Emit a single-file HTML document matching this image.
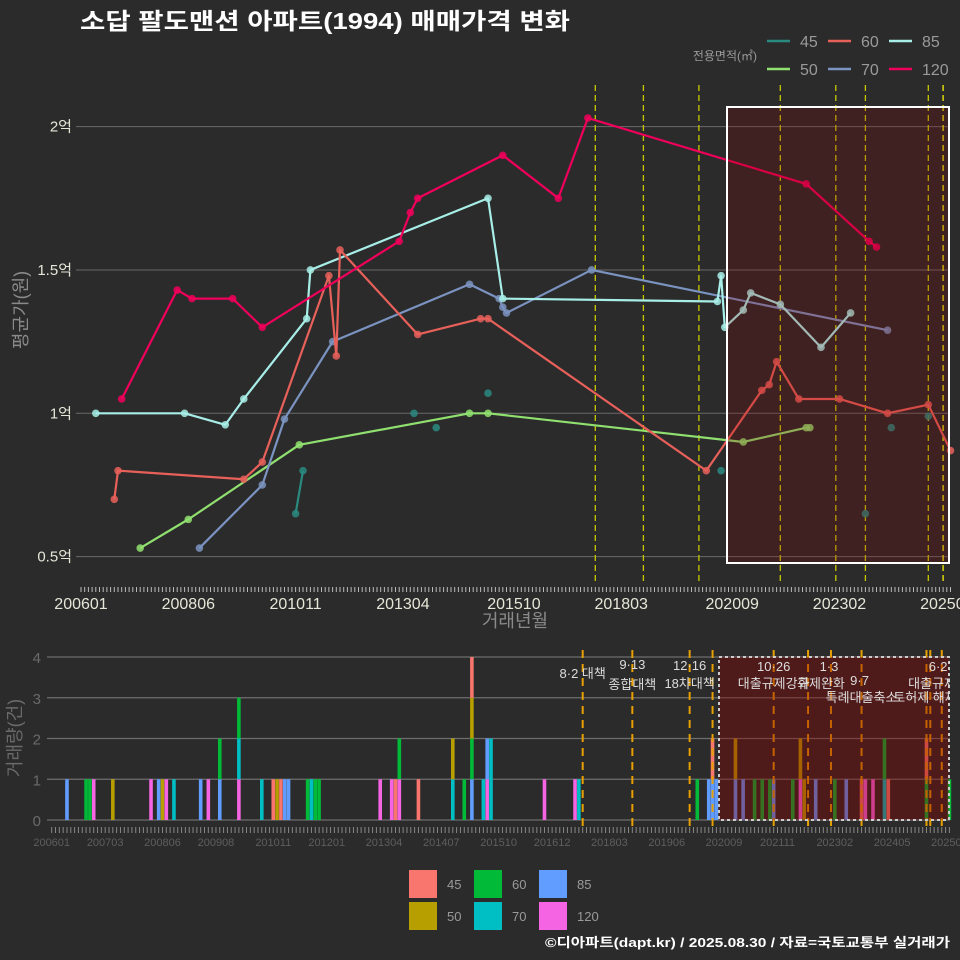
<!DOCTYPE html>
<html><head><meta charset="utf-8"><style>
html,body{margin:0;padding:0;background:#2b2b2b;}
svg{display:block;font-family:"Liberation Sans","Noto Sans CJK KR",sans-serif;}
</style></head><body>
<svg id="chart" width="960" height="960" viewBox="0 0 960 960">
<rect x="0" y="0" width="960" height="960" fill="#2b2b2b"/>
<text x="80" y="29" fill="#ffffff" font-size="23" font-weight="bold" textLength="490" lengthAdjust="spacingAndGlyphs">소답 팔도맨션 아파트(1994) 매매가격 변화</text>
<text x="545" y="947" fill="#ffffff" font-size="13" font-weight="bold" textLength="405" lengthAdjust="spacingAndGlyphs">©디아파트(dapt.kr) / 2025.08.30 / 자료=국토교통부 실거래가</text>
<g id="topChart"></g>
<g id="bottomChart"></g>
<g id="legends"></g>
</svg>
<script>
// ---- price series (month index from 2006-01, value in 억) ----
const s45Months = [58, 60, 90, 96, 110, 173, 212, 219, 229];
const s45Values = [0.65, 0.80, 1.0, 0.95, 1.07, 0.80, 0.65, 0.95, 0.99];
const s45Connected = [1, 1, 0, 0, 0, 0, 0, 0, 0];
const s50Months = [16, 29, 59, 105, 110, 179, 196, 197];
const s50Values = [0.53, 0.63, 0.89, 1.0, 1.0, 0.90, 0.95, 0.95];
const s60Months = [9, 10, 44, 49, 67, 69, 70, 91, 108, 110, 169, 184, 186, 188, 194, 205, 218, 229, 235];
const s60Values = [0.70, 0.80, 0.77, 0.83, 1.48, 1.20, 1.57, 1.275, 1.33, 1.33, 0.80, 1.08, 1.10, 1.18, 1.05, 1.05, 1.0, 1.03, 0.87];
const s70Months = [32, 49, 55, 68, 105, 113, 114, 115, 138, 218];
const s70Values = [0.53, 0.75, 0.98, 1.25, 1.45, 1.40, 1.37, 1.35, 1.50, 1.29];
const s85Months = [4, 28, 39, 44, 61, 62, 110, 114, 172, 173, 174, 179, 181, 189, 200, 208];
const s85Values = [1.0, 1.0, 0.96, 1.05, 1.33, 1.50, 1.75, 1.40, 1.39, 1.48, 1.30, 1.36, 1.42, 1.38, 1.23, 1.35];
const s120Months = [11, 26, 30, 41, 49, 86, 89, 91, 114, 129, 137, 196, 213, 215];
const s120Values = [1.05, 1.43, 1.40, 1.40, 1.30, 1.60, 1.70, 1.75, 1.90, 1.75, 2.03, 1.80, 1.60, 1.58];
// ---- volume (bars) ----
const v45Months = [58, 60, 90, 96, 110, 173, 212, 219, 229];
const v45Counts = [1, 1, 1, 1, 1, 1, 1, 1, 1];
const v50Months = [16, 29, 59, 105, 110, 179, 196, 197];
const v50Counts = [1, 1, 1, 1, 1, 1, 1, 1];
const v60Months = [9, 10, 44, 49, 67, 69, 70, 91, 108, 110, 169, 184, 186, 188, 194, 205, 218, 229, 235];
const v60Counts = [1, 1, 1, 1, 1, 1, 1, 1, 1, 1, 1, 1, 1, 1, 1, 1, 1, 1, 1];
const v70Months = [32, 49, 55, 68, 105, 113, 115, 138, 218];
const v70Counts = [1, 1, 1, 1, 1, 1, 2, 1, 1];
const v85Months = [4, 28, 39, 44, 61, 62, 110, 114, 172, 173, 174, 179, 181, 189, 200, 208];
const v85Counts = [1, 1, 1, 1, 1, 1, 1, 1, 1, 1, 1, 1, 1, 1, 1, 1];
const v120Months = [11, 26, 30, 41, 49, 86, 89, 91, 114, 129, 137, 196, 213, 215];
const v120Counts = [1, 1, 1, 1, 1, 1, 1, 1, 1, 1, 1, 1, 1, 1];
// ---- ticks / annotations ----
const topYTicks = [0.5, 1, 1.5, 2];
const topYLabels = ["0.5억", "1억", "1.5억", "2억"];
const topXTickMonths = [0, 29, 58, 87, 117, 146, 176, 205, 234];
const topXLabels = ["200601", "200806", "201011", "201304", "201510", "201803", "202009", "202302", "202507"];
const botYTicks = [0, 1, 2, 3, 4];
const botXTickMonths = [0, 14, 29, 43, 58, 72, 87, 102, 117, 131, 146, 161, 176, 190, 205, 220, 235];
const botXLabels = ["200601","200703","200806","200908","201011","201201","201304","201407","201510","201612","201803","201906","202009","202111","202302","202405","202508"];
const topPolicyMonths = [139, 152, 167, 189, 204, 212, 229, 233];
const botPolicyMonths = [139, 152, 167, 173, 189, 198, 204, 212, 229, 230, 233];
const policyLabel1 = ["8·2 대책", "9·13", "12·16", "10·26", "1·3", "9·7", "6·27"];
const policyLabel2 = ["", "종합대책", "18차대책", "대출규제강화", "규제완화", "특례대출축소", "대출규제 강화"];
const policyLabelMonths = [139, 152, 167, 189, 204, 212, 233];

const NS = "http://www.w3.org/2000/svg";
function mk(parent, tag, attrs) {
  const e = document.createElementNS(NS, tag);
  for (const k in attrs) e.setAttribute(k, attrs[k]);
  parent.appendChild(e);
  return e;
}
const xTop = m => 81 + 3.7 * m;
const yTop = v => 413.3 - (v - 1) * 286.7;
const xBot = m => 51.7 + 3.82 * m;
const yBot = c => 820 - 40.75 * c;

const topG = document.getElementById("topChart");
const botG = document.getElementById("bottomChart");
const legG = document.getElementById("legends");

// ===== TOP CHART =====
topYTicks.forEach((t, i) => {
  const g = mk(topG, "line", {x1: 76, x2: 950, y1: yTop(t), y2: yTop(t), stroke: "#6a6a6a", "stroke-width": 1});
  
  
  const l = mk(topG, "text", {x: 72, y: yTop(t) + 5, fill: "#e6e6d8", "font-size": 15, "text-anchor": "end"});
  l.textContent = topYLabels[i];
  
  
});
for (let m = 0; m <= 235; m++) {
  const t = mk(topG, "line", {x1: xTop(m), x2: xTop(m), y1: 587, y2: 592, stroke: "#bbbbbb", "stroke-width": 1});
  
  
}
topXTickMonths.forEach((m, i) => {
  const l = mk(topG, "text", {x: xTop(m), y: 609, fill: "#e6e6d8", "font-size": 16, "text-anchor": "middle"});
  l.textContent = topXLabels[i];
  
  
});
let t1 = mk(topG, "text", {x: 515, y: 627, fill: "#8a8a8a", "font-size": 18, "text-anchor": "middle"});
t1.textContent = "거래년월";


let t2 = mk(topG, "text", {x: 0, y: 0, fill: "#8a8a8a", "font-size": 18, "text-anchor": "middle", transform: "translate(27,310) rotate(-90)"});
t2.textContent = "평균가(원)";



topPolicyMonths.forEach((m, i) => {
  const d = mk(topG, "line", {x1: xTop(m), x2: xTop(m), y1: 85, y2: 585, stroke: i === topPolicyMonths.length - 1 ? "#f0f000" : "#c8c800", "stroke-width": 1.3, "stroke-dasharray": "6 4"});
  
  
});

const topSeries = [
  {name: "45", months: s45Months, values: s45Values, color: "#2a8a80", conn: s45Connected},
  {name: "50", months: s50Months, values: s50Values, color: "#90e070"},
  {name: "70", months: s70Months, values: s70Values, color: "#7b93c0"},
  {name: "85", months: s85Months, values: s85Values, color: "#a8eee8"},
  {name: "60", months: s60Months, values: s60Values, color: "#e8605a"},
  {name: "120", months: s120Months, values: s120Values, color: "#f0005a"}
];
topSeries.forEach(s => {
  let pts = [];
  if (s.conn) {
    s.months.forEach((m, i) => { if (s.conn[i]) pts.push(xTop(m) + "," + yTop(s.values[i])); });
  } else {
    pts = s.months.map((m, i) => xTop(m) + "," + yTop(s.values[i]));
  }
  if (pts.length > 1) {
    const p = mk(topG, "polyline", {points: pts.join(" "), fill: "none", stroke: s.color, "stroke-width": 2.2, "stroke-linejoin": "round"});
    
    
  }
  s.months.forEach((m, i) => {
    const c = mk(topG, "circle", {cx: xTop(m), cy: yTop(s.values[i]), r: 3.8, fill: s.color, "fill-opacity": 0.85});
    
    
  });
});
let hl = mk(topG, "rect", {x: 727, y: 107, width: 222, height: 456, fill: "rgba(139,0,0,0.22)", stroke: "#ffffff", "stroke-width": 2});



// ===== BOTTOM CHART =====
botYTicks.forEach(t => {
  const g = mk(botG, "line", {x1: 47, x2: 950, y1: yBot(t), y2: yBot(t), stroke: "#6e6e6e", "stroke-width": 1.2});
  
  
  const l = mk(botG, "text", {x: 41, y: yBot(t) + 6, fill: "#6a6a6a", "font-size": 15, "text-anchor": "end"});
  l.textContent = String(t);
  
  
});
for (let m = 0; m <= 235; m++) {
  const t = mk(botG, "line", {x1: xBot(m), x2: xBot(m), y1: 827, y2: 833, stroke: "#888888", "stroke-width": 1});
  
  
}
botXTickMonths.forEach((m, i) => {
  const l = mk(botG, "text", {x: xBot(m), y: 846, fill: "#5e5e5e", "font-size": 11, "text-anchor": "middle"});
  l.textContent = botXLabels[i];
  
  
});
let t3 = mk(botG, "text", {x: 0, y: 0, fill: "#6a6a6a", "font-size": 18, "text-anchor": "middle", transform: "translate(21,738) rotate(-90)"});
t3.textContent = "거래량(건)";



const barSeries = [
  {name: "120", months: v120Months, counts: v120Counts, color: "#f564e3"},
  {name: "85", months: v85Months, counts: v85Counts, color: "#619cff"},
  {name: "70", months: v70Months, counts: v70Counts, color: "#00bfc4"},
  {name: "60", months: v60Months, counts: v60Counts, color: "#00ba38"},
  {name: "50", months: v50Months, counts: v50Counts, color: "#b79f00"},
  {name: "45", months: v45Months, counts: v45Counts, color: "#f8766d"}
];
const stack = {};
barSeries.forEach(s => {
  s.months.forEach((m, i) => {
    const base = stack[m] || 0;
    const c = s.counts[i];
    const r = mk(botG, "rect", {x: xBot(m) - 1.8, y: yBot(base + c), width: 3.6, height: yBot(base) - yBot(base + c), fill: s.color});
    
    
    stack[m] = base + c;
  });
});
botPolicyMonths.forEach(m => {
  const d = mk(botG, "line", {x1: xBot(m), x2: xBot(m), y1: 650, y2: 828, stroke: "#e8a000", "stroke-width": 2, "stroke-dasharray": "8 6"});
  
  
});
let hl2 = mk(botG, "rect", {x: 719, y: 657, width: 230, height: 163, fill: "rgba(139,0,0,0.38)", stroke: "#cccccc", "stroke-width": 2, "stroke-dasharray": "3 3"});



const clip = mk(botG, "clipPath", {id: "annClip"});
mk(clip, "rect", {x: 0, y: 640, width: 950, height: 100});
const ann = mk(botG, "g", {"clip-path": "url(#annClip)"});


const annPos1 = [[0, 678], [0, 669], [0, 670], [0, 671], [-2, 671], [-2, 685], [0, 671]];
const annPos2 = [[0, 0], [0, 689], [0, 688], [0, 688], [-10, 688], [0, 702], [4, 688]];
policyLabelMonths.forEach((m, i) => {
  const a = mk(ann, "text", {x: xBot(m) + annPos1[i][0], y: annPos1[i][1], fill: "#dddddd", "font-size": 13, "text-anchor": "middle"});
  a.textContent = policyLabel1[i];
  
  
  if (policyLabel2[i]) {
    const b = mk(ann, "text", {x: xBot(m) + annPos2[i][0], y: annPos2[i][1], fill: "#dddddd", "font-size": 13, "text-anchor": "middle"});
    b.textContent = policyLabel2[i];
    
    
  }
});
let extra = mk(ann, "text", {x: 925, y: 702, fill: "#dddddd", "font-size": 13, "text-anchor": "middle"});
extra.textContent = "토허제 해제";



// ===== LEGENDS =====
let lt = mk(legG, "text", {x: 757, y: 60, fill: "#9a9a9a", "font-size": 12, "text-anchor": "end"});
lt.textContent = "전용면적(㎡)";


const topLeg = [["45", "#2a8a80", 767, 41], ["60", "#e8605a", 828, 41], ["85", "#a8eee8", 889, 41], ["50", "#90e070", 767, 69], ["70", "#7b93c0", 828, 69], ["120", "#f0005a", 889, 69]];
topLeg.forEach(e => {
  const g = mk(legG, "g", {});
  
  
  mk(g, "line", {x1: e[2], x2: e[2] + 23, y1: e[3], y2: e[3], stroke: e[1], "stroke-width": 2.5});
  const t = mk(g, "text", {x: e[2] + 33, y: e[3] + 6, fill: "#9a9a9a", "font-size": 16});
  t.textContent = e[0];
});
const botLeg = [["45", "#f8766d", 409, 870], ["50", "#b79f00", 409, 902], ["60", "#00ba38", 474, 870], ["70", "#00bfc4", 474, 902], ["85", "#619cff", 539, 870], ["120", "#f564e3", 539, 902]];
botLeg.forEach(e => {
  const g = mk(legG, "g", {});
  
  
  mk(g, "rect", {x: e[2], y: e[3], width: 28, height: 28, fill: e[1]});
  const t = mk(g, "text", {x: e[2] + 38, y: e[3] + 19, fill: "#9a9a9a", "font-size": 13});
  t.textContent = e[0];
});
</script>
</body></html>
